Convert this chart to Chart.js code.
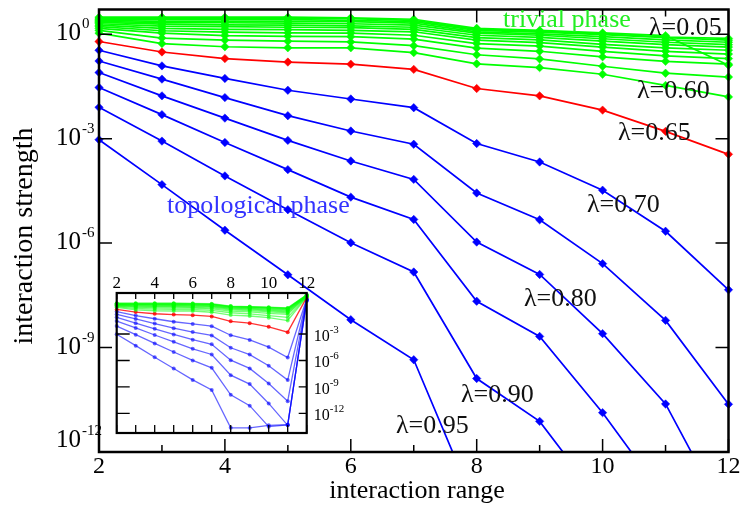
<!DOCTYPE html>
<html><head><meta charset="utf-8">
<script src="https://cdn.jsdelivr.net/npm/chart.js@4/dist/chart.umd.min.js"></script>
<style>
html,body{margin:0;padding:0;background:#fff;}
#wrap{position:relative;width:742px;height:506px;overflow:hidden;}
canvas{position:absolute;left:0;top:0;}
</style></head><body>
<div id="wrap"><canvas id="main" width="742" height="506"></canvas><canvas id="inset" width="742" height="506"></canvas></div>
<script>
// interaction range (x values)
const ranges = [2, 3, 4, 5, 6, 7, 8, 9, 10, 11, 12];
const xTickLabels = [2, 4, 6, 8, 10, 12];
const yTickExponents = [0, -3, -6, -9, -12];
const insetXTickLabels = [2, 4, 6, 8, 10, 12];
const insetYTickExponents = [-3, -6, -9, -12];

// log10(interaction strength), trivial phase (green), lambda = 0.05 ... 0.60
const g005 = [0.49, 0.49, 0.49, 0.49, 0.47, 0.43, 0.17, 0.11, 0.04, -0.04, -0.89];
const g010 = [0.46, 0.46, 0.46, 0.46, 0.45, 0.40, 0.14, 0.09, 0.01, -0.08, -0.12];
const g015 = [0.43, 0.42, 0.42, 0.42, 0.40, 0.36, 0.11, 0.06, -0.01, -0.10, -0.17];
const g020 = [0.40, 0.37, 0.37, 0.37, 0.36, 0.32, 0.07, 0.01, -0.07, -0.16, -0.23];
const g025 = [0.37, 0.33, 0.33, 0.32, 0.30, 0.26, 0.03, -0.03, -0.13, -0.23, -0.30];
const g030 = [0.34, 0.29, 0.27, 0.26, 0.24, 0.20, -0.03, -0.09, -0.20, -0.30, -0.37];
const g035 = [0.30, 0.23, 0.22, 0.20, 0.19, 0.14, -0.10, -0.16, -0.29, -0.39, -0.46];
const g040 = [0.26, 0.17, 0.14, 0.13, 0.11, 0.07, -0.17, -0.24, -0.37, -0.49, -0.57];
const g045 = [0.22, 0.10, 0.06, 0.04, 0.03, -0.03, -0.27, -0.34, -0.49, -0.62, -0.70];
const g050 = [0.17, 0.03, -0.04, -0.06, -0.07, -0.14, -0.40, -0.49, -0.65, -0.78, -0.86];
const g055 = [0.11, -0.11, -0.17, -0.20, -0.22, -0.33, -0.59, -0.71, -0.92, -1.12, -1.23];
const g060 = [0.03, -0.27, -0.36, -0.39, -0.39, -0.53, -0.85, -0.96, -1.15, -1.47, -1.80];
// critical (red), lambda = 0.65
const r065 = [-0.21, -0.51, -0.70, -0.80, -0.86, -1.01, -1.56, -1.77, -2.18, -2.79, -3.45];
// topological phase (blue), lambda = 0.70 ... 0.95
const b070 = [-0.46, -0.91, -1.27, -1.61, -1.86, -2.11, -3.14, -3.67, -4.48, -5.66, -7.34];
const b075 = [-0.77, -1.29, -1.82, -2.34, -2.78, -3.16, -4.56, -5.33, -6.59, -8.22, -10.63];
const b080 = [-1.10, -1.77, -2.41, -3.05, -3.64, -4.17, -5.97, -6.90, -8.60, -10.62, -14.0];
const b085 = [-1.53, -2.31, -3.11, -3.89, -4.68, -5.32, -7.67, -8.68, -10.87, -13.35, null];
const b090 = [-2.10, -3.07, -4.07, -5.04, -5.99, -6.83, -9.89, -11.12, -13.5, -13.3, null];
const b095 = [-3.03, -4.32, -5.63, -6.91, -8.20, -9.35, -13.64, -13.65, -13.35, -13.28, null];

// inset: log10 value at range 12 for each curve (same order as series below)
const insetAt12Green = [1.45, 1.43, 1.41, 1.39, 1.37, 1.35, 1.33, 1.31, 1.29, 1.27, 1.24, 1.20];
const insetAt12Red = [1.15];
const insetAt12Blue = [1.00, 0.95, 0.90, 0.85, 0.80, 0.75];

const greenSeries = [g005, g010, g015, g020, g025, g030, g035, g040, g045, g050, g055, g060];
const redSeries = [r065];
const blueSeries = [b070, b075, b080, b085, b090, b095];

const FONT = '"Liberation Serif","Times New Roman",serif';
const GREEN = 'rgb(0,255,0)', RED = 'rgb(255,0,0)', BLUE = 'rgb(0,0,255)';

function toPoints(arr){ return ranges.map((r,i)=>({x:r, y: arr[i]==null ? null : Math.pow(10, arr[i])})); }

const mainSets = [];
greenSeries.forEach(a=>mainSets.push({data:toPoints(a), color:GREEN}));
redSeries.forEach(a=>mainSets.push({data:toPoints(a), color:RED}));
blueSeries.forEach(a=>mainSets.push({data:toPoints(a), color:BLUE}));

const mainDatasets = mainSets.map(s=>({
  data:s.data, borderColor:s.color, backgroundColor:s.color,
  pointBackgroundColor:s.color, pointBorderColor:s.color,
  borderWidth:1.7, pointStyle:'rectRot', pointRadius:4.2, pointBorderWidth:0.5,
  tension:0, spanGaps:false, clip:{left:8,right:8,top:8,bottom:0}
}));

const notes = [
 {t:'λ=0.05', x:649, y:35, c:'#111'},
 {t:'λ=0.60', x:637, y:98, c:'#111'},
 {t:'λ=0.65', x:618, y:140, c:'#111'},
 {t:'λ=0.70', x:587, y:212, c:'#111'},
 {t:'λ=0.80', x:524, y:306, c:'#111'},
 {t:'λ=0.90', x:461, y:402, c:'#111'},
 {t:'λ=0.95', x:396, y:433, c:'#111'},
 {t:'trivial phase', x:503, y:27, c:'#22ee22'},
 {t:'topological phase', x:167, y:213, c:'#3333ff'}
];

const mainDeco = {
  id:'mainDeco',
  afterDatasetsDraw(chart){
    const ctx = chart.ctx, a = chart.chartArea, xs = chart.scales.x, ys = chart.scales.y;
    ctx.save();
    ctx.strokeStyle = '#000'; ctx.lineWidth = 1.5;
    ctx.beginPath();
    ranges.forEach(r=>{
      const px = xs.getPixelForValue(r);
      const len = (r % 2 === 0) ? 13 : 7;
      ctx.moveTo(px, a.bottom); ctx.lineTo(px, a.bottom - len);
      ctx.moveTo(px, a.top); ctx.lineTo(px, a.top + len);
    });
    yTickExponents.forEach(e=>{
      const py = ys.getPixelForValue(Math.pow(10,e));
      ctx.moveTo(a.left, py); ctx.lineTo(a.left + 13, py);
      ctx.moveTo(a.right, py); ctx.lineTo(a.right - 13, py);
    });
    ctx.stroke();
    ctx.lineWidth = 2.5;
    ctx.strokeRect(a.left, a.top, a.right - a.left, a.bottom - a.top);

    ctx.fillStyle = '#000';
    ctx.font = '24px ' + FONT;
    ctx.textAlign = 'center'; ctx.textBaseline = 'alphabetic';
    xTickLabels.forEach(v=>{
      ctx.fillText(String(v), xs.getPixelForValue(v), a.bottom + 21);
    });
    yTickExponents.forEach(e=>{
      const py = ys.getPixelForValue(Math.pow(10,e));
      const base = (e === -12) ? py - 5 : py + 6;
      ctx.font = '25px ' + FONT; ctx.textAlign = 'right';
      ctx.fillText('10', 81, base);
      ctx.font = '15px ' + FONT; ctx.textAlign = 'left';
      ctx.fillText(String(e), 82, base - 12);
    });
    ctx.font = '26px ' + FONT; ctx.textAlign = 'center';
    ctx.fillText('interaction range', 417, 498);
    ctx.save();
    ctx.font = '28px ' + FONT;
    ctx.translate(32, 236); ctx.rotate(-Math.PI/2);
    ctx.fillText('interaction strength', 0, 0);
    ctx.restore();

    ctx.font = '26px ' + FONT; ctx.textAlign = 'left';
    notes.forEach(n=>{ ctx.fillStyle = n.c; ctx.fillText(n.t, n.x, n.y); });
    ctx.restore();
  }
};

new Chart(document.getElementById('main'), {
  type:'line',
  data:{datasets: mainDatasets},
  options:{
    responsive:false, animation:false, devicePixelRatio:1, events:[],
    layout:{padding:{left:99, right:13.5, top:9.5, bottom:54}},
    plugins:{legend:{display:false}, tooltip:{enabled:false}},
    scales:{
      x:{type:'linear', min:2, max:12, display:false},
      y:{type:'logarithmic', min:1e-12, max:Math.pow(10,0.71), display:false}
    }
  },
  plugins:[mainDeco]
});

// ---------- inset ----------
function insetPoints(arr, last){
  return ranges.map((r,i)=>({x:r, y: Math.pow(10, r === 12 ? last : arr[i])}));
}
const insetSets = [];
greenSeries.forEach((a,i)=>insetSets.push({data:insetPoints(a, insetAt12Green[i]), color:'rgba(0,255,0,0.55)'}));
redSeries.forEach((a,i)=>insetSets.push({data:insetPoints(a, insetAt12Red[i]), color:'rgba(255,0,0,0.8)'}));
blueSeries.forEach((a,i)=>insetSets.push({data:insetPoints(a, insetAt12Blue[i]), color:'rgba(0,0,255,0.6)'}));

const insetDatasets = insetSets.map(s=>({
  data:s.data, borderColor:s.color, backgroundColor:s.color,
  pointBackgroundColor:s.color, pointBorderColor:s.color,
  borderWidth:1.3, pointStyle:'circle', pointRadius:2, pointBorderWidth:0,
  tension:0, clip:{left:3,right:3,top:3,bottom:3}
}));

const insetDeco = {
  id:'insetDeco',
  beforeDatasetsDraw(chart){
    const ctx = chart.ctx, a = chart.chartArea;
    ctx.save(); ctx.fillStyle = '#fff';
    ctx.fillRect(a.left, a.top, a.right - a.left, a.bottom - a.top);
    ctx.restore();
  },
  afterDatasetsDraw(chart){
    const ctx = chart.ctx, a = chart.chartArea, xs = chart.scales.x, ys = chart.scales.y;
    ctx.save();
    ctx.strokeStyle = '#000'; ctx.lineWidth = 1.3;
    ctx.beginPath();
    ranges.forEach(r=>{
      const px = xs.getPixelForValue(r);
      ctx.moveTo(px, a.bottom); ctx.lineTo(px, a.bottom - 8);
      ctx.moveTo(px, a.top); ctx.lineTo(px, a.top + 6);
    });
    insetYTickExponents.forEach(e=>{
      const py = ys.getPixelForValue(Math.pow(10,e));
      ctx.moveTo(a.left, py); ctx.lineTo(a.left + 13, py);
      ctx.moveTo(a.right, py); ctx.lineTo(a.right - 8, py);
    });
    ctx.stroke();
    ctx.lineWidth = 2.2;
    ctx.strokeRect(a.left, a.top, a.right - a.left, a.bottom - a.top);
    ctx.fillStyle = '#000';
    ctx.font = '17px ' + FONT; ctx.textAlign = 'center'; ctx.textBaseline = 'alphabetic';
    insetXTickLabels.forEach(v=>{ ctx.fillText(String(v), xs.getPixelForValue(v), a.top - 5); });
    insetYTickExponents.forEach(e=>{
      const py = ys.getPixelForValue(Math.pow(10,e));
      ctx.font = '16px ' + FONT; ctx.textAlign = 'left';
      ctx.fillText('10', a.right + 7, py + 7);
      ctx.font = '11px ' + FONT;
      ctx.fillText(String(e), a.right + 23, py - 1);
    });
    ctx.restore();
  }
};

new Chart(document.getElementById('inset'), {
  type:'line',
  data:{datasets: insetDatasets},
  options:{
    responsive:false, animation:false, devicePixelRatio:1, events:[],
    layout:{padding:{left:116.7, right:742-306.7, top:293, bottom:506-433}},
    plugins:{legend:{display:false}, tooltip:{enabled:false}},
    scales:{
      x:{type:'linear', min:2, max:12, display:false},
      y:{type:'logarithmic', min:Math.pow(10,-14.2), max:Math.pow(10,1.65), display:false}
    }
  },
  plugins:[insetDeco]
});
</script>
</body></html>
